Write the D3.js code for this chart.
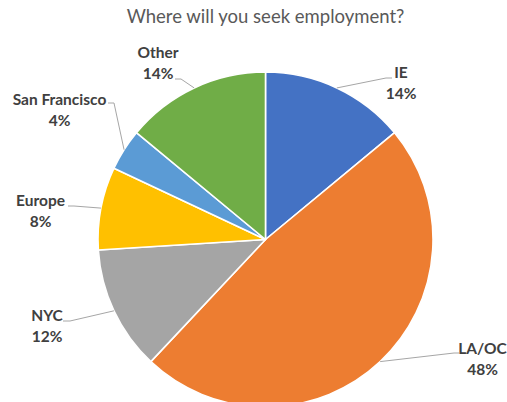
<!DOCTYPE html>
<html>
<head>
<meta charset="utf-8">
<script src="https://cdn.jsdelivr.net/npm/d3@7"></script>
<style>
  html, body { margin: 0; padding: 0; background: #ffffff; }
  svg { display: block; }
</style>
</head>
<body>
<div id="chart"></div>
<script>
// Survey answers: where respondents plan to look for work
const categories = ["IE", "LA/OC", "NYC", "Europe", "San Francisco", "Other"];
const shares = [14, 48, 12, 8, 4, 14];
const sliceColors = ["#4472C4", "#ED7D31", "#A5A5A5", "#FFC000", "#5B9BD5", "#70AD47"];
const title = "Where will you seek employment?";

// Label placement: text centre x, first baseline y, and the leader line's knee + end
const labelLayout = {
  "IE":            { x: 401,   y: 78,  knee: [386, 78],  end: [392, 78] },
  "LA/OC":         { x: 482.5, y: 354, knee: [454, 353], end: [459, 353] },
  "NYC":           { x: 47,    y: 321, knee: [70, 321],  end: [63, 321] },
  "Europe":        { x: 40.5,  y: 206, knee: [74, 206],  end: [68, 206] },
  "San Francisco": { x: 59.5,  y: 105, knee: [114, 103], end: [108, 103] },
  "Other":         { x: 158,   y: 58,  knee: [181, 79],  end: [175, 79] }
};

const W = 507, H = 402;
const cx = 265.5, cy = 239.5, R = 167.5;

const svg = d3.select("#chart").append("svg")
  .attr("width", W).attr("height", H);

svg.append("text")
  .attr("x", cx).attr("y", 23)
  .attr("text-anchor", "middle")
  .attr("font-family", "Lato, 'Open Sans', sans-serif")
  .attr("font-size", 18.5)
  .attr("fill", "#595959")
  .text(title);

const data = categories.map((c, i) => ({ name: c, value: shares[i], color: sliceColors[i] }));

const pie = d3.pie().sort(null).value(d => d.value);
const arcs = pie(data);
const arc = d3.arc().innerRadius(0).outerRadius(R);

const g = svg.append("g").attr("transform", `translate(${cx},${cy})`);

g.selectAll("path.slice")
  .data(arcs)
  .join("path")
  .attr("class", "slice")
  .attr("d", arc)
  .attr("fill", d => d.data.color)
  .attr("stroke", "#ffffff")
  .attr("stroke-width", 1.6)
  .attr("stroke-linejoin", "round");

// Leader lines from the rim at each slice's mid angle to its label
const leaders = svg.append("g");
arcs.forEach(d => {
  const mid = (d.startAngle + d.endAngle) / 2;
  const px = cx + R * Math.sin(mid);
  const py = cy - R * Math.cos(mid);
  const L = labelLayout[d.data.name];
  leaders.append("polyline")
    .attr("points", [[px, py], L.knee, L.end].map(p => p.join(",")).join(" "))
    .attr("fill", "none")
    .attr("stroke", "#A6A6A6")
    .attr("stroke-width", 1);
});

const pct = d3.format(".0%");
const labels = svg.append("g")
  .attr("font-family", "Lato, 'Open Sans', sans-serif")
  .attr("font-weight", "bold")
  .attr("font-size", 15.5)
  .attr("fill", "#404040")
  .attr("text-anchor", "middle");

arcs.forEach(d => {
  const L = labelLayout[d.data.name];
  const t = labels.append("text").attr("x", L.x).attr("y", L.y);
  t.append("tspan").attr("x", L.x).text(d.data.name);
  t.append("tspan").attr("x", L.x).attr("dy", 21).text(pct(d.data.value / 100));
});
</script>
</body>
</html>
